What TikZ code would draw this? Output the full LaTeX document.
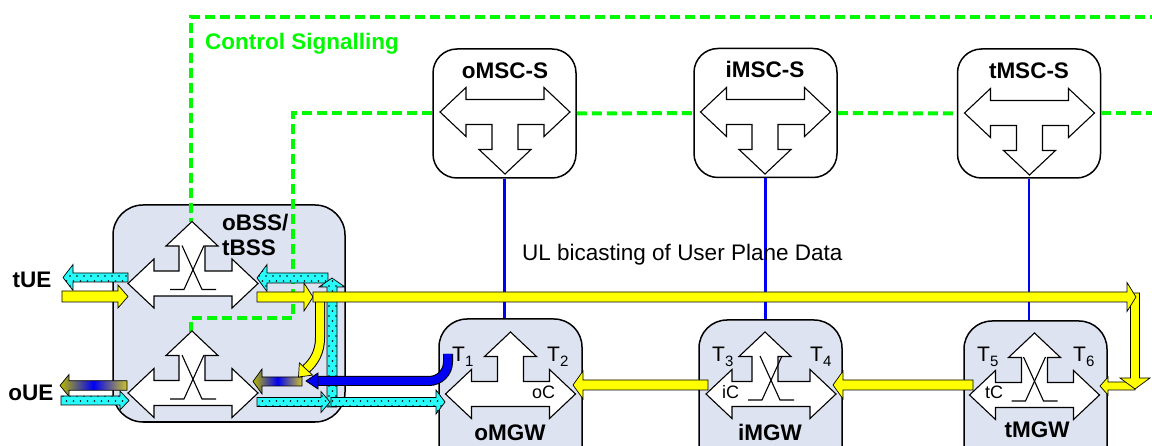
\documentclass[tikz,border=0pt]{standalone}
\usepackage{fontspec}
\setmainfont{Liberation Sans}
\usetikzlibrary{patterns}
\pgfdeclarepatternformonly{cdots}{\pgfpoint{-1pt}{-1pt}}{\pgfpoint{7pt}{10pt}}{\pgfpoint{7pt}{10pt}}{%
  \pgfpathcircle{\pgfpoint{0pt}{0pt}}{0.9pt}%
  \pgfpathcircle{\pgfpoint{3.5pt}{5pt}}{0.9pt}%
  \pgfusepath{fill}}
\definecolor{boxfill}{RGB}{221,227,240}
\definecolor{greenc}{RGB}{0,250,0}
\definecolor{cyanc}{RGB}{40,250,250}
\definecolor{yelc}{RGB}{255,255,0}
\definecolor{bluec}{RGB}{0,0,245}
\definecolor{olivec}{RGB}{185,185,0}
\definecolor{goldc}{RGB}{205,195,40}
\tikzset{
  mscbox/.style={draw=black, line width=1.5pt, rounded corners=24pt, fill=white, minimum width=143pt, minimum height=129pt, inner sep=0pt},
  gwbox/.style={draw=black, line width=1.5pt, rounded corners=28pt, fill=boxfill, minimum width=143pt, minimum height=160pt, inner sep=0pt},
  bssbox/.style={draw=black, line width=1.5pt, rounded corners=30pt, fill=boxfill, minimum width=232pt, minimum height=217pt, inner sep=0pt},
  whiteshape/.style={draw=black, fill=white, line width=1.1pt, line join=miter},
  xline/.style={draw=black, line width=1.1pt},
  gdash/.style={draw=greenc, line width=4pt, dash pattern=on 10pt off 5pt},
  bline/.style={draw=bluec, line width=2.5pt},
  yelarr/.style={draw=black, line width=0.7pt, fill=yelc, line join=miter},
  cyanarr/.style={draw=black, line width=0.7pt, preaction={fill=cyanc}, pattern=cdots, pattern color=black, line join=miter},
  gradarr/.style={draw=black, line width=0.7pt, left color=olivec, right color=goldc, middle color=bluec, line join=miter},
  bluearr/.style={draw=black, line width=0.7pt, fill=bluec, line join=miter},
  bigb/.style={font=\fontsize{22.5}{24}\selectfont\bfseries, inner sep=0pt},
  tlab/.style={font=\fontsize{21}{24}\selectfont, inner sep=0pt, anchor=base west},
  clab/.style={font=\fontsize{18}{20}\selectfont, inner sep=0pt, anchor=base west},
}
% horizontal block arrow: style, tail x, tip x, y, shaft width, head width, head length
\newcommand\harr[7]{%
  \pgfmathsetmacro\myhs{(#3>#2)?1:-1}%
  \pgfmathsetmacro\myhb{#3-(\myhs)*#7}%
  \draw[#1] (#2,#4-#5/2) -- (\myhb,#4-#5/2) -- (\myhb,#4-#6/2) -- (#3,#4) -- (\myhb,#4+#6/2) -- (\myhb,#4+#5/2) -- (#2,#4+#5/2) -- cycle;}
% vertical block arrow: style, x, tail y, tip y, shaft width, head width, head length
\newcommand\varr[7]{%
  \pgfmathsetmacro\myvs{(#4>#3)?1:-1}%
  \pgfmathsetmacro\myvb{#4-(\myvs)*#7}%
  \draw[#1] (#2-#5/2,#3) -- (#2-#5/2,\myvb) -- (#2-#6/2,\myvb) -- (#2,#4) -- (#2+#6/2,\myvb) -- (#2+#5/2,\myvb) -- (#2+#5/2,#3) -- cycle;}
% T-shaped double arrow: cx, cy, direction (1 down, -1 up), offset of vertical arrow
\newcommand\tshape[4]{%
  \begin{scope}[shift={(#1,#2)}, yscale=#3]
    \draw[whiteshape] (-65,0) -- (-39,-24.5) -- (-39,-12.5) -- (39,-12.5) -- (39,-24.5) -- (65,0) -- (39,24.5) -- (39,12.5)
      -- ({#4+13},12.5) -- ({#4+13},37.5) -- ({#4+26},37.5) -- ({#4},62) -- ({#4-26},37.5) -- ({#4-13},37.5) -- ({#4-13},12.5)
      -- (-39,12.5) -- (-39,24.5) -- cycle;
  \end{scope}}
% crossing switch symbol
\newcommand\xsym[2]{%
  \draw[xline] (#1-11,#2-38) -- (#1+9,#2+6) -- (#1+23,#2+6);
  \draw[xline] (#1+11,#2-38) -- (#1-9,#2+6) -- (#1-23,#2+6);}
\begin{document}
\begin{tikzpicture}[x=1pt,y=-1pt]
\useasboundingbox (0,0) rectangle (1152,446);
\fill[white] (0,0) rectangle (1152,446);

% boxes
\node[bssbox] (bss) at (229,313.5) {};
\node[gwbox] (omgw) at (510.5,399) {};
\node[gwbox] (imgw) at (770.5,400) {};
\node[gwbox] (tmgw) at (1035.5,401) {};
\node[mscbox] (omsc) at (504.5,113.5) {};
\node[mscbox] (imsc) at (765.5,113) {};
\node[mscbox] (tmsc) at (1029,113.5) {};

% blue MSC-MGW links
\draw[bline] (omsc.south) -- (omsc.south |- omgw.north);
\draw[bline] (imsc.south) -- (imsc.south |- imgw.north);
\draw[bline] (tmsc.south) -- (tmsc.south |- tmgw.north);

% control signalling (green dashed)
\coordinate (gtop) at (1160,17);
\coordinate (gright) at (1160,113.5);
\coordinate (bssup) at (191,222);
\coordinate (bsslow) at (191,332);
\draw[gdash] (gtop) -- (191,17) -- (bssup);
\draw[gdash] (omsc.west) -- (293,113.5) -- (293,318) -- (191,318) -- (bsslow);
\draw[gdash] (omsc.east) -- (imsc.west);
\draw[gdash] (imsc.east) -- (tmsc.west);
\draw[gdash] (tmsc.east) -- (gright);

% white switch shapes
\tshape{505}{112}{1}{0}
\tshape{765.5}{112}{1}{-0.5}
\tshape{1029.5}{113}{1}{0}
\tshape{510.5}{394}{-1}{0}
\tshape{771}{394}{-1}{-6}
\xsym{771}{394}
\tshape{1034.5}{395}{-1}{0}
\xsym{1034.5}{395}
\tshape{193}{283.5}{-1}{-1}
\xsym{193}{283.5}
\tshape{193}{393}{-1}{-1}
\xsym{193}{393}

% user plane arrows
\harr{gradarr}{302}{253}{381.5}{9}{25}{9}
\draw[black, line width=10pt] (320,300) -- (320,338) .. controls (320,352) and (314,362) .. (306,369);
\draw[yelc, line width=8pt] (320,300) -- (320,338) .. controls (320,352) and (314,362) .. (306,369);
\draw[yelarr] (312.6,375.1) -- (298.5,377) -- (299.4,362.9) -- cycle;
\harr{cyanarr}{328}{257}{278}{10}{27}{10}
\varr{cyanarr}{332}{407}{278}{10}{26}{9}
\harr{yelarr}{257}{313}{297}{10}{28}{9}
\harr{yelarr}{1135}{1100}{386}{8}{18}{8}
\varr{yelarr}{1135}{293}{389}{9}{30}{11}
\harr{yelarr}{313}{1136}{297}{10}{29}{9}
\harr{yelarr}{973}{833}{385}{10}{28}{10}
\harr{yelarr}{708}{573}{385}{10}{28}{10}
\harr{cyanarr}{128}{63}{277.5}{9}{26}{10}
\harr{yelarr}{62}{128}{296.5}{11}{23}{10}
\harr{gradarr}{127}{60}{385.5}{9.5}{22}{9}
\harr{cyanarr}{61}{129}{400.5}{9}{19}{9}
\harr{cyanarr}{257}{330}{402}{9}{21}{9}
\harr{cyanarr}{331}{445}{402}{9}{24}{9}
\draw[black, line width=10pt] (448,354) -- (448,362) .. controls (448,372.5) and (439.5,381) .. (429,381) -- (318,381);
\draw[bluec, line width=8pt] (448,354) -- (448,362) .. controls (448,372.5) and (439.5,381) .. (429,381) -- (318,381);
\draw[bluearr] (318,389) -- (306,381) -- (318,373) -- cycle;

% labels
\node[bigb, text=greenc, anchor=base west] (cslab) at (205,50) {Control Signalling};
\node[bigb, anchor=base] (omsclab) at (505,79) {oMSC-S};
\node[bigb, anchor=base] (imsclab) at (765,78) {iMSC-S};
\node[bigb, anchor=base] (tmsclab) at (1029,79) {tMSC-S};
\node[bigb, anchor=base west] (bsslab1) at (222,231) {oBSS/};
\node[bigb, anchor=base west] (bsslab2) at (222,256) {tBSS};
\node[bigb, anchor=base] (tuelab) at (32,288) {tUE};
\node[bigb, anchor=base] (ouelab) at (31,401) {oUE};
\node[inner sep=0pt, anchor=base west, font=\fontsize{22.5}{24}\selectfont] (ullab) at (522,261) {UL bicasting of User Plane Data};
\node[bigb, anchor=base] (omgwlab) at (510,440) {oMGW};
\node[bigb, anchor=base] (imgwlab) at (770,440) {iMGW};
\node[bigb, anchor=base] (tmgwlab) at (1037,438) {tMGW};
\node[tlab] (t1) at (452,362) {T\raisebox{-5pt}{\fontsize{15}{16}\selectfont 1}};
\node[tlab] (t2) at (547,362) {T\raisebox{-5pt}{\fontsize{15}{16}\selectfont 2}};
\node[tlab] (t3) at (712,362) {T\raisebox{-5pt}{\fontsize{15}{16}\selectfont 3}};
\node[tlab] (t4) at (810,362) {T\raisebox{-5pt}{\fontsize{15}{16}\selectfont 4}};
\node[tlab] (t5) at (977,362) {T\raisebox{-5pt}{\fontsize{15}{16}\selectfont 5}};
\node[tlab] (t6) at (1073,362) {T\raisebox{-5pt}{\fontsize{15}{16}\selectfont 6}};
\node[clab] (oclab) at (532,399) {oC};
\node[clab] (iclab) at (722,399) {iC};
\node[clab] (tclab) at (985,399) {tC};
\end{tikzpicture}
\end{document}
